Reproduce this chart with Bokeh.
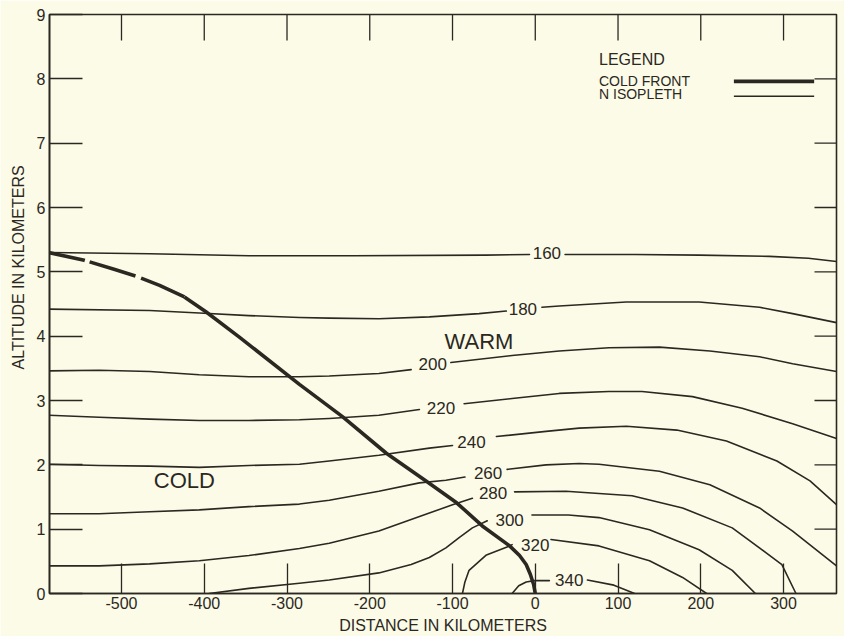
import math
from bokeh.plotting import figure
from bokeh.models import Range1d, FixedTicker, ColumnDataSource, Title
from bokeh.core.properties import value
from bokeh.embed import file_html
from bokeh.resources import INLINE

# ---------------- data (km, km) ----------------
x_start, x_end = -587, 364
y_start, y_end = 0, 9
x_ticks = [-500, -400, -300, -200, -100, 0, 100, 200, 300]
y_ticks = [0, 1, 2, 3, 4, 5, 6, 7, 8, 9]

# cold front (dashed at its far end, then solid)
front_x = [-588, -545, -509, -482, -454, -424, -398, -358, -285, -233, -180, -132, -95, -64,
           -31, -19, -11, -6, -2, 0]
front_y = [5.30, 5.18, 5.04, 4.93, 4.79, 4.61, 4.38, 3.99, 3.25, 2.75, 2.18, 1.75, 1.41, 1.05,
           0.74, 0.59, 0.45, 0.30, 0.14, 0.0]
front_dashed_points = 6

# N isopleths: part a (left of the label) and part b (right of the label)
n160_xa = [-588, -466, -346, -220, -60, -7]
n160_ya = [5.30, 5.28, 5.25, 5.25, 5.26, 5.27]
n160_xb = [36, 120, 198, 283, 330, 364]
n160_yb = [5.27, 5.27, 5.26, 5.24, 5.21, 5.16]

n180_xa = [-588, -466, -406, -346, -285, -249, -189, -128, -68, -35]
n180_ya = [4.42, 4.40, 4.36, 4.32, 4.29, 4.28, 4.27, 4.30, 4.35, 4.39]
n180_xb = [8, 29, 110, 198, 271, 311, 364]
n180_yb = [4.45, 4.47, 4.53, 4.53, 4.45, 4.35, 4.21]

n200_xa = [-588, -527, -466, -406, -346, -285, -249, -189, -150]
n200_ya = [3.46, 3.47, 3.45, 3.40, 3.37, 3.37, 3.38, 3.42, 3.48]
n200_xb = [-102, -28, 29, 89, 150, 211, 271, 311, 364]
n200_yb = [3.59, 3.70, 3.77, 3.82, 3.83, 3.77, 3.68, 3.57, 3.45]

n220_xa = [-588, -527, -466, -406, -346, -285, -249, -189, -140]
n220_ya = [2.77, 2.74, 2.71, 2.69, 2.69, 2.70, 2.72, 2.77, 2.86]
n220_xb = [-86, -28, 29, 89, 129, 190, 250, 311, 364]
n220_yb = [2.95, 3.03, 3.11, 3.14, 3.14, 3.06, 2.88, 2.64, 2.41]

n240_xa = [-588, -527, -466, -406, -346, -285, -249, -189, -128, -100]
n240_ya = [2.01, 1.99, 1.98, 1.96, 1.99, 2.01, 2.06, 2.15, 2.26, 2.30]
n240_xb = [-47, 13, 53, 110, 171, 231, 292, 332, 364]
n240_yb = [2.44, 2.52, 2.57, 2.60, 2.54, 2.37, 2.06, 1.75, 1.38]

n260_xa = [-588, -527, -466, -406, -346, -285, -249, -189, -140, -108, -85]
n260_ya = [1.24, 1.24, 1.27, 1.30, 1.35, 1.39, 1.45, 1.59, 1.72, 1.76, 1.81]
n260_xb = [-34, 13, 53, 77, 150, 211, 271, 311, 364]
n260_yb = [1.93, 2.00, 2.02, 2.01, 1.90, 1.69, 1.33, 0.97, 0.43]

n280_xa = [-588, -527, -466, -406, -346, -285, -249, -189, -128, -100, -76]
n280_ya = [0.43, 0.43, 0.46, 0.51, 0.59, 0.70, 0.78, 0.97, 1.25, 1.38, 1.48]
n280_xb = [-25, 37, 117, 178, 238, 298, 315]
n280_yb = [1.58, 1.59, 1.52, 1.33, 1.02, 0.45, 0.0]

n300_xa = [-394, -346, -285, -249, -189, -150, -128, -108, -92, -76, -58]
n300_ya = [0.0, 0.08, 0.16, 0.21, 0.32, 0.45, 0.56, 0.71, 0.87, 1.02, 1.13]
n300_xb = [-4, 40, 77, 138, 198, 238, 266]
n300_yb = [1.22, 1.22, 1.18, 0.99, 0.68, 0.36, 0.0]

n320_xa = [-88, -85, -80, -59, -31, -28]
n320_ya = [0.0, 0.18, 0.36, 0.60, 0.74, 0.76]
n320_xb = [19, 77, 138, 178, 207]
n320_yb = [0.84, 0.74, 0.51, 0.25, 0.0]

n340_xa = [-28, -20, -11, -1, 17]
n340_ya = [0.0, 0.12, 0.18, 0.20, 0.20]
n340_xb = [63, 95, 120]
n340_yb = [0.21, 0.13, 0.0]

iso_levels = ["160", "180", "200", "220", "240", "260", "280", "300", "320", "340"]
iso_label_x = [14, -15, -124, -114, -77, -57, -51, -31, 0, 41]
iso_label_y = [5.29, 4.42, 3.57, 2.88, 2.35, 1.87, 1.56, 1.14, 0.76, 0.21]

region_text = ["WARM", "COLD"]
region_x = [-68, -424]
region_y = [3.91, 1.76]

legend_text = ["LEGEND", "COLD FRONT", "N ISOPLETH"]
legend_text_x = [77, 77, 77]
legend_text_y = [8.30, 7.96, 7.76]
legend_line_x = [240, 337]
legend_front_y = 7.96
legend_iso_y = 7.73

# ---------------- style ----------------
BG = "#FCFBE8"
INK = "#2b2822"
FONT = "Liberation Sans"

p = figure(width=844, height=636, x_range=Range1d(x_start, x_end), y_range=Range1d(y_start, y_end),
           output_backend="svg", toolbar_location=None,
           min_border_left=49, min_border_right=8, min_border_top=14, min_border_bottom=40,
           background_fill_color=BG, border_fill_color=BG)
p.grid.visible = False
p.outline_line_color = INK
p.outline_line_width = 1.6

for ax in p.xaxis:
    ax.ticker = FixedTicker(ticks=x_ticks)
    ax.major_label_overrides = {t: str(t) for t in x_ticks}
    ax.major_tick_in = 30
    ax.major_tick_out = 0
    ax.minor_tick_line_color = None
    ax.axis_line_color = INK
    ax.axis_line_width = 1.6
    ax.major_tick_line_color = INK
    ax.major_tick_line_width = 1.3
    ax.major_label_text_font = FONT
    ax.major_label_text_font_size = "16px"
    ax.major_label_text_color = INK
    ax.major_label_standoff = 3
    ax.axis_label = "DISTANCE IN KILOMETERS"
    ax.axis_label_text_font = FONT
    ax.axis_label_text_font_size = "16px"
    ax.axis_label_text_font_style = "normal"
    ax.axis_label_text_color = INK
    ax.axis_label_standoff = 5

for ax in p.yaxis:
    ax.ticker = FixedTicker(ticks=y_ticks)
    ax.major_tick_in = 33
    ax.major_tick_out = 0
    ax.minor_tick_line_color = None
    ax.axis_line_color = INK
    ax.axis_line_width = 1.6
    ax.major_tick_line_color = INK
    ax.major_tick_line_width = 1.3
    ax.major_label_text_font = FONT
    ax.major_label_text_font_size = "16px"
    ax.major_label_text_color = INK
    ax.major_label_standoff = 4

# vertical title, placed as in the original (starts well above the bottom edge)
p.add_layout(Title(text="ALTITUDE IN KILOMETERS", align="left", offset=224, standoff=14,
                   text_font=FONT, text_font_size="16px", text_font_style="normal",
                   text_color=INK), "left")

# inward ticks on the top and right edges
p.ray(x=x_ticks[:], y=[y_end] * len(x_ticks), length=26, length_units="screen",
      angle=-math.pi / 2, line_color=INK, line_width=1.3)
p.ray(x=[x_end] * (len(y_ticks) - 2), y=y_ticks[1:-1], length=22, length_units="screen",
      angle=math.pi, line_color=INK, line_width=1.3)

# isopleths
parts = [
    (n160_xa, n160_ya), (n160_xb, n160_yb),
    (n180_xa, n180_ya), (n180_xb, n180_yb),
    (n200_xa, n200_ya), (n200_xb, n200_yb),
    (n220_xa, n220_ya), (n220_xb, n220_yb),
    (n240_xa, n240_ya), (n240_xb, n240_yb),
    (n260_xa, n260_ya), (n260_xb, n260_yb),
    (n280_xa, n280_ya), (n280_xb, n280_yb),
    (n300_xa, n300_ya), (n300_xb, n300_yb),
    (n320_xa, n320_ya), (n320_xb, n320_yb),
    (n340_xa, n340_ya), (n340_xb, n340_yb),
]
p.multi_line(xs=[a for a, b in parts], ys=[b for a, b in parts],
             line_color=INK, line_width=1.6, line_join="round", line_cap="round")

# cold front
k = front_dashed_points
p.line(front_x[:k], front_y[:k], line_color=INK, line_width=3.6, line_dash="37 5 48 6 200",
       line_cap="butt", line_join="round")
p.line(front_x[k - 1:], front_y[k - 1:], line_color=INK, line_width=3.6,
       line_cap="butt", line_join="round")

# isopleth labels
lab_src = ColumnDataSource(dict(x=iso_label_x, y=iso_label_y, t=iso_levels))
p.text(x="x", y="y", text="t", source=lab_src, text_align="center", text_baseline="middle",
       text_font=value(FONT), text_font_size="17px", text_color=INK)

reg_src = ColumnDataSource(dict(x=region_x, y=region_y, t=region_text))
p.text(x="x", y="y", text="t", source=reg_src, text_align="center", text_baseline="middle",
       text_font=value(FONT), text_font_size="22px", text_color=INK)

# legend (hand-drawn, as in the original)
leg_src = ColumnDataSource(dict(x=legend_text_x, y=legend_text_y, t=legend_text,
                                s=["16px", "14px", "14px"]))
p.text(x="x", y="y", text="t", source=leg_src, text_align="left", text_baseline="middle",
       text_font=value(FONT), text_font_size="s", text_color=INK)
p.line(legend_line_x, [legend_front_y] * 2, line_color=INK, line_width=3.6)
p.line(legend_line_x, [legend_iso_y] * 2, line_color=INK, line_width=1.6)

open("out.html", "w").write(file_html(p, INLINE))
